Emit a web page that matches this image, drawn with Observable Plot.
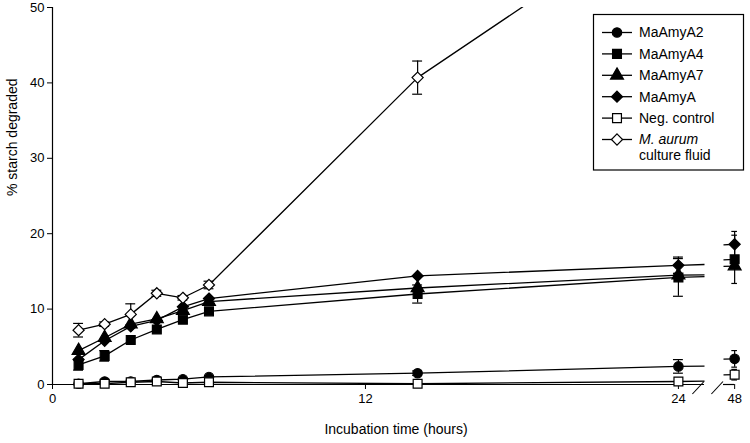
<!DOCTYPE html>
<html><head><meta charset="utf-8">
<script src="https://cdn.jsdelivr.net/npm/d3@7"></script>
<script src="https://cdn.jsdelivr.net/npm/@observablehq/plot@0.6"></script>
<style>body{margin:0;background:#fff;} #chart{width:750px;height:443px;}</style>
</head><body><div id="chart"></div>
<script>
// ---- data ----
const hours = [1, 2, 3, 4, 5, 6, 14, 24, 48];
const maAmyA2 = [0.1, 0.4, 0.4, 0.6, 0.7, 1.0, 1.5, 2.4, 3.4];
const maAmyA4 = [2.6, 3.8, 5.9, 7.3, 8.6, 9.7, 12.0, 14.2, 16.6];
const maAmyA7 = [4.5, 6.2, 8.0, 8.7, 9.8, 11.0, 12.8, 14.5, 15.7];
const maAmyA = [3.3, 5.8, 7.7, 8.5, 10.3, 11.4, 14.4, 15.8, 18.6];
const negControl = [0.1, 0.1, 0.3, 0.4, 0.2, 0.3, 0.1, 0.4, 1.3];
const mAurum = [7.2, 8.0, 9.3, 12.1, 11.5, 13.2, 40.7, 64.0, null];
const errA2 = [0, 0, 0, 0, 0, 0, 0.3, 0.9, 1.1];
const errA4 = [0.7, 0.7, 0, 0, 0, 0, 1.2, 2.5, 3.2];
const errA7 = [0, 0, 0, 0, 0, 0, 0, 0, 0];
const errA = [0, 0, 0, 0, 0, 0, 0, 1.1, 1.7];
const errNeg = [0, 0, 0, 0, 0, 0, 0, 0, 0.7];
const errAurum = [0.9, 0.3, 1.4, 0.4, 0.3, 0.5, 2.2, 0, 0];
const xTicks = [0, 12, 24, 48];
const yTicks = [0, 10, 20, 30, 40, 50];
const xLabel = "Incubation time (hours)";
const yLabel = "% starch degraded";

const series = [
  {name: "MaAmyA2", values: maAmyA2, err: errA2, symbol: "circle", fill: "black", r: 4.7},
  {name: "MaAmyA4", values: maAmyA4, err: errA4, symbol: "square", fill: "black", r: 5},
  {name: "MaAmyA7", values: maAmyA7, err: errA7, symbol: "triangle", fill: "black", r: 4.8},
  {name: "MaAmyA", values: maAmyA, err: errA, symbol: "diamond2", fill: "black", r: 5},
  {name: "Neg. control", values: negControl, err: errNeg, symbol: "square", fill: "white", r: 5},
  {name: "M. aurum culture fluid", values: mAurum, err: errAurum, symbol: "diamond2", fill: "white", r: 5}
];

const rows = [];
series.forEach(s => s.values.forEach((v, i) => {
  if (v != null) rows.push({series: s.name, x: hours[i], y: v, err: s.err[i]});
}));
const mainRows = rows.filter(d => d.x <= 24);
const errRows = rows.filter(d => d.err > 0 && d.y <= 50);
const capHalf = 0.19;
const caps = [];
errRows.forEach(d => {
  caps.push({y: d.y + d.err, x1: d.x - capHalf, x2: d.x + capHalf});
  caps.push({y: d.y - d.err, x1: d.x - capHalf, x2: d.x + capHalf});
});
// short connecting stubs across the axis break (24 h -> 48 h)
const stubs = [];
series.forEach(s => {
  const a = s.values[hours.indexOf(24)], b = s.values[hours.indexOf(48)];
  if (a != null && b != null) {
    const slope = (b - a) / 24;
    stubs.push({x1: 24, y1: a, x2: 25, y2: a + slope});
    stubs.push({x1: 47.25, y1: b - slope * 0.75, x2: 48, y2: b});
  }
});

const font = "'Liberation Sans', Arial, sans-serif";

const marks = [
  Plot.ruleX([0], {stroke: "black", strokeWidth: 1.2}),
  Plot.ruleY([0], {x1: 0, x2: 25, stroke: "black", strokeWidth: 1.2}),
  Plot.ruleY([0], {x1: 47.25, x2: 48, stroke: "black", strokeWidth: 1.2}),
  Plot.axisY({ticks: yTicks, tickSize: 5, tickPadding: 3, label: null, fontSize: 13}),
  Plot.axisX({ticks: xTicks, tickSize: 5, tickPadding: 4, label: null, fontSize: 13}),
  Plot.text([xLabel], {frameAnchor: "bottom", dy: 49, dx: -5, text: d => d, fontSize: 14}),
  Plot.text([yLabel], {frameAnchor: "left", dx: -40, rotate: -90, text: d => d, fontSize: 14}),
  Plot.ruleX(errRows, {x: "x", y1: d => d.y - d.err, y2: d => d.y + d.err, stroke: "black", strokeWidth: 1.2}),
  Plot.ruleY(caps, {y: "y", x1: "x1", x2: "x2", stroke: "black", strokeWidth: 1.2}),
  Plot.line(mainRows, {x: "x", y: "y", z: "series", stroke: "black", strokeWidth: 1.3, clip: true}),
  Plot.link(stubs, {x1: "x1", y1: "y1", x2: "x2", y2: "y2", stroke: "black", strokeWidth: 1.3})
];
series.forEach(s => {
  marks.push(Plot.dot(rows.filter(d => d.series === s.name && d.y <= 50), {
    x: "x", y: "y", symbol: s.symbol, fill: s.fill, stroke: "black", strokeWidth: 1.2, r: s.r
  }));
});

const chart = Plot.plot({
  width: 750,
  height: 443,
  marginLeft: 52,
  marginRight: 1,
  marginTop: 7,
  marginBottom: 59,
  style: {fontFamily: font, fontSize: "13px", background: "white", color: "black"},
  x: {type: "linear", domain: [0, 25, 47.25, 49], range: [52, 704, 723, 749], axis: null},
  y: {domain: [0, 50], axis: null},
  marks
});
document.getElementById("chart").appendChild(chart);

// ---- axis break slashes and legend (decoration) ----
const svg = d3.select(chart);
const sx = chart.scale("x"), sy = chart.scale("y");
const y0 = sy.apply(0);
[25, 47.25].forEach(v => {
  const px = sx.apply(v);
  svg.append("line").attr("x1", px - 11.6).attr("y1", y0 + 10).attr("x2", px).attr("y2", y0 - 2.5)
    .attr("stroke", "black").attr("stroke-width", 1.1);
});

const lg = svg.append("g").attr("font-family", font).attr("font-size", 14).attr("text-anchor", "start");
lg.append("rect").attr("x", 593.5).attr("y", 14.5).attr("width", 150).attr("height", 155.5)
  .attr("fill", "white").attr("stroke", "black").attr("stroke-width", 1.2);
const symMap = {circle: d3.symbolCircle, square: d3.symbolSquare, triangle: d3.symbolTriangle, diamond2: d3.symbolDiamond2};
series.forEach((s, i) => {
  const cy = 32.5 + i * 21.4;
  lg.append("line").attr("x1", 602).attr("x2", 632).attr("y1", cy).attr("y2", cy).attr("stroke", "black").attr("stroke-width", 1.3);
  lg.append("path").attr("d", d3.symbol(symMap[s.symbol], Math.PI * s.r * s.r)())
    .attr("transform", `translate(617,${cy})`).attr("fill", s.fill).attr("stroke", "black").attr("stroke-width", 1.2);
  const t = lg.append("text").attr("x", 639).attr("y", cy).attr("dy", "0.35em").attr("fill", "black");
  if (s.name.startsWith("M. aurum")) {
    t.append("tspan").attr("font-style", "italic").text("M. aurum");
    lg.append("text").attr("x", 639).attr("y", cy + 16).attr("dy", "0.35em").attr("fill", "black").text("culture fluid");
  } else {
    t.text(s.name);
  }
});
</script>
</body></html>
